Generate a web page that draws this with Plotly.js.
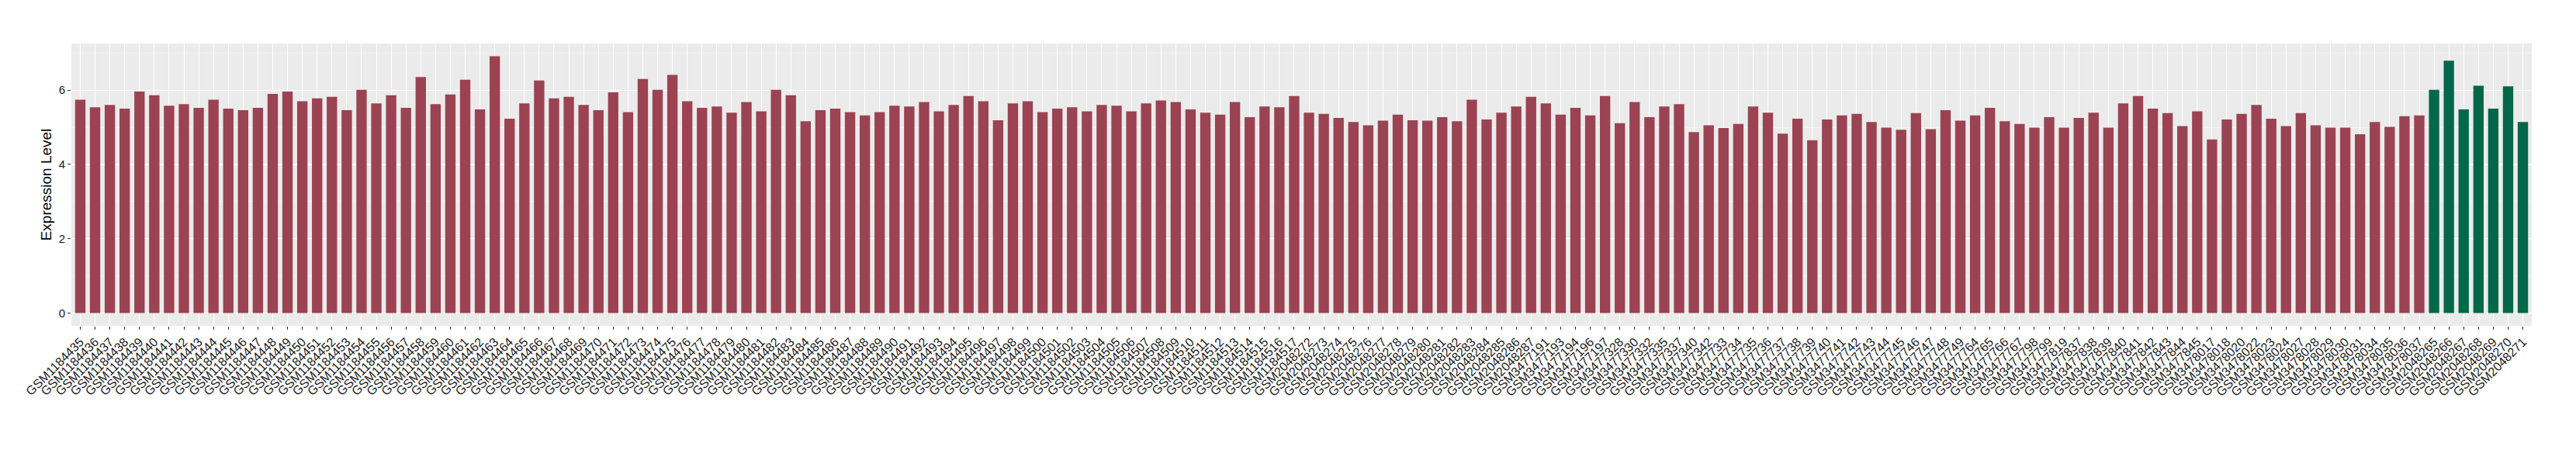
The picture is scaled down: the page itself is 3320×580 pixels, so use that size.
<!DOCTYPE html>
<html>
<head>
<meta charset="utf-8">
<script src="https://cdn.plot.ly/plotly-3.0.1.min.js"></script>
<style>html,body{margin:0;padding:0;background:#fff;}#chart{width:3320px;height:580px;}</style>
</head>
<body>
<div id="chart"></div>
<script>
const samplesA = [
"GSM1184435","GSM1184436","GSM1184437","GSM1184438","GSM1184439","GSM1184440","GSM1184441","GSM1184442","GSM1184443","GSM1184444",
"GSM1184445","GSM1184446","GSM1184447","GSM1184448","GSM1184449","GSM1184450","GSM1184451","GSM1184452","GSM1184453","GSM1184454",
"GSM1184455","GSM1184456","GSM1184457","GSM1184458","GSM1184459","GSM1184460","GSM1184461","GSM1184462","GSM1184463","GSM1184464",
"GSM1184465","GSM1184466","GSM1184467","GSM1184468","GSM1184469","GSM1184470","GSM1184471","GSM1184472","GSM1184473","GSM1184474",
"GSM1184475","GSM1184476","GSM1184477","GSM1184478","GSM1184479","GSM1184480","GSM1184481","GSM1184482","GSM1184483","GSM1184484",
"GSM1184485","GSM1184486","GSM1184487","GSM1184488","GSM1184489","GSM1184490","GSM1184491","GSM1184492","GSM1184493","GSM1184494",
"GSM1184495","GSM1184496","GSM1184497","GSM1184498","GSM1184499","GSM1184500","GSM1184501","GSM1184502","GSM1184503","GSM1184504",
"GSM1184505","GSM1184506","GSM1184507","GSM1184508","GSM1184509","GSM1184510","GSM1184511","GSM1184512","GSM1184513","GSM1184514",
"GSM1184515","GSM1184516","GSM1184517",
"GSM2048272","GSM2048273","GSM2048274","GSM2048275","GSM2048276","GSM2048277","GSM2048278","GSM2048279","GSM2048280","GSM2048281",
"GSM2048282","GSM2048283","GSM2048284","GSM2048285","GSM2048286","GSM2048287",
"GSM3477191","GSM3477193","GSM3477194","GSM3477196","GSM3477197",
"GSM3477328","GSM3477330","GSM3477332","GSM3477335","GSM3477337","GSM3477340","GSM3477342",
"GSM3477733","GSM3477734","GSM3477735","GSM3477736","GSM3477737","GSM3477738","GSM3477739","GSM3477740","GSM3477741","GSM3477742",
"GSM3477743","GSM3477744","GSM3477745","GSM3477746","GSM3477747","GSM3477748","GSM3477749",
"GSM3477764","GSM3477765","GSM3477766","GSM3477767","GSM3477798","GSM3477799","GSM3477819",
"GSM3477837","GSM3477838","GSM3477839","GSM3477840","GSM3477841","GSM3477842","GSM3477843","GSM3477844","GSM3477845",
"GSM3478017","GSM3478018","GSM3478020","GSM3478022","GSM3478023","GSM3478024","GSM3478027","GSM3478028","GSM3478029","GSM3478030",
"GSM3478031","GSM3478034","GSM3478035","GSM3478036","GSM3478037"
];
const valuesA = [
5.74,5.54,5.60,5.50,5.96,5.86,5.58,5.62,5.52,5.74,
5.50,5.46,5.52,5.90,5.96,5.70,5.78,5.82,5.46,6.01,
5.64,5.86,5.52,6.35,5.62,5.88,6.28,5.48,6.91,5.23,
5.64,6.26,5.78,5.82,5.60,5.46,5.94,5.41,6.30,6.01,
6.41,5.70,5.52,5.56,5.39,5.68,5.43,6.01,5.86,5.16,
5.46,5.50,5.41,5.32,5.41,5.58,5.56,5.68,5.43,5.60,
5.84,5.70,5.19,5.64,5.70,5.41,5.50,5.54,5.43,5.60,
5.58,5.43,5.64,5.72,5.68,5.48,5.39,5.34,5.68,5.27,
5.56,5.54,5.84,
5.39,5.36,5.25,5.14,5.05,5.18,5.34,5.19,5.18,5.27,
5.16,5.74,5.21,5.39,5.56,5.82,
5.64,5.34,5.52,5.32,5.84,
5.11,5.68,5.27,5.56,5.62,4.87,5.05,
4.98,5.09,5.56,5.39,4.83,5.23,4.65,5.21,5.32,5.36,
5.14,4.99,4.93,5.38,4.95,5.46,5.18,
5.32,5.52,5.16,5.09,4.99,5.27,4.99,
5.25,5.39,4.99,5.64,5.84,5.50,5.38,5.03,5.43,
4.67,5.21,5.36,5.60,5.23,5.03,5.38,5.05,4.99,4.99,
4.81,5.14,5.01,5.30,5.32
];
const samplesB = ["GSM2048265","GSM2048266","GSM2048267","GSM2048268","GSM2048269","GSM2048270","GSM2048271"];
const valuesB = [6.01,6.79,5.48,6.12,5.50,6.10,5.14];

const allSamples = samplesA.concat(samplesB);
const allValues = valuesA.concat(valuesB);
const ymax = Math.max.apply(null, allValues);

const traces = [
  {type:'bar', x:samplesA, y:valuesA, width:0.7, marker:{color:'#9B4352'}, hoverinfo:'x+y'},
  {type:'bar', x:samplesB, y:valuesB, width:0.7, marker:{color:'#03684A'}, hoverinfo:'x+y'}
];

const layout = {
  width:3320, height:580,
  margin:{l:92, r:57, t:56, b:160, pad:0},
  paper_bgcolor:'#FFFFFF',
  plot_bgcolor:'#EBEBEB',
  showlegend:false,
  barmode:'overlay',
  font:{family:'Liberation Sans, Arial, sans-serif', color:'#1a1a1a'},
  xaxis:{
    type:'category',
    categoryorder:'array', categoryarray:allSamples,
    range:[-0.6, allSamples.length - 0.4],
    tickmode:'array', tickvals:allSamples, ticktext:allSamples,
    tickangle:-45,
    tickfont:{size:16, color:'#1a1a1a'},
    ticks:'outside', ticklen:4, tickwidth:1, tickcolor:'#333333',
    showgrid:true, gridcolor:'#FFFFFF', gridwidth:1,
    showline:false, zeroline:false, fixedrange:true
  },
  yaxis:{
    range:[-0.05*ymax, 1.05*ymax],
    tick0:0, dtick:2,
    tickfont:{size:15, color:'#1a1a1a'},
    ticks:'outside', ticklen:4, tickwidth:1, tickcolor:'#333333',
    showgrid:true, gridcolor:'#FFFFFF', gridwidth:1.2,
    minor:{dtick:1, tick0:0, showgrid:true, gridcolor:'#F7F7F7', gridwidth:0.6, ticks:''},
    zeroline:false, showline:false,
    title:{text:'Expression Level', font:{size:19, color:'#000000'}, standoff:4}
  }
};

Plotly.newPlot('chart', traces, layout, {displayModeBar:false, staticPlot:true});
</script>
</body>
</html>
